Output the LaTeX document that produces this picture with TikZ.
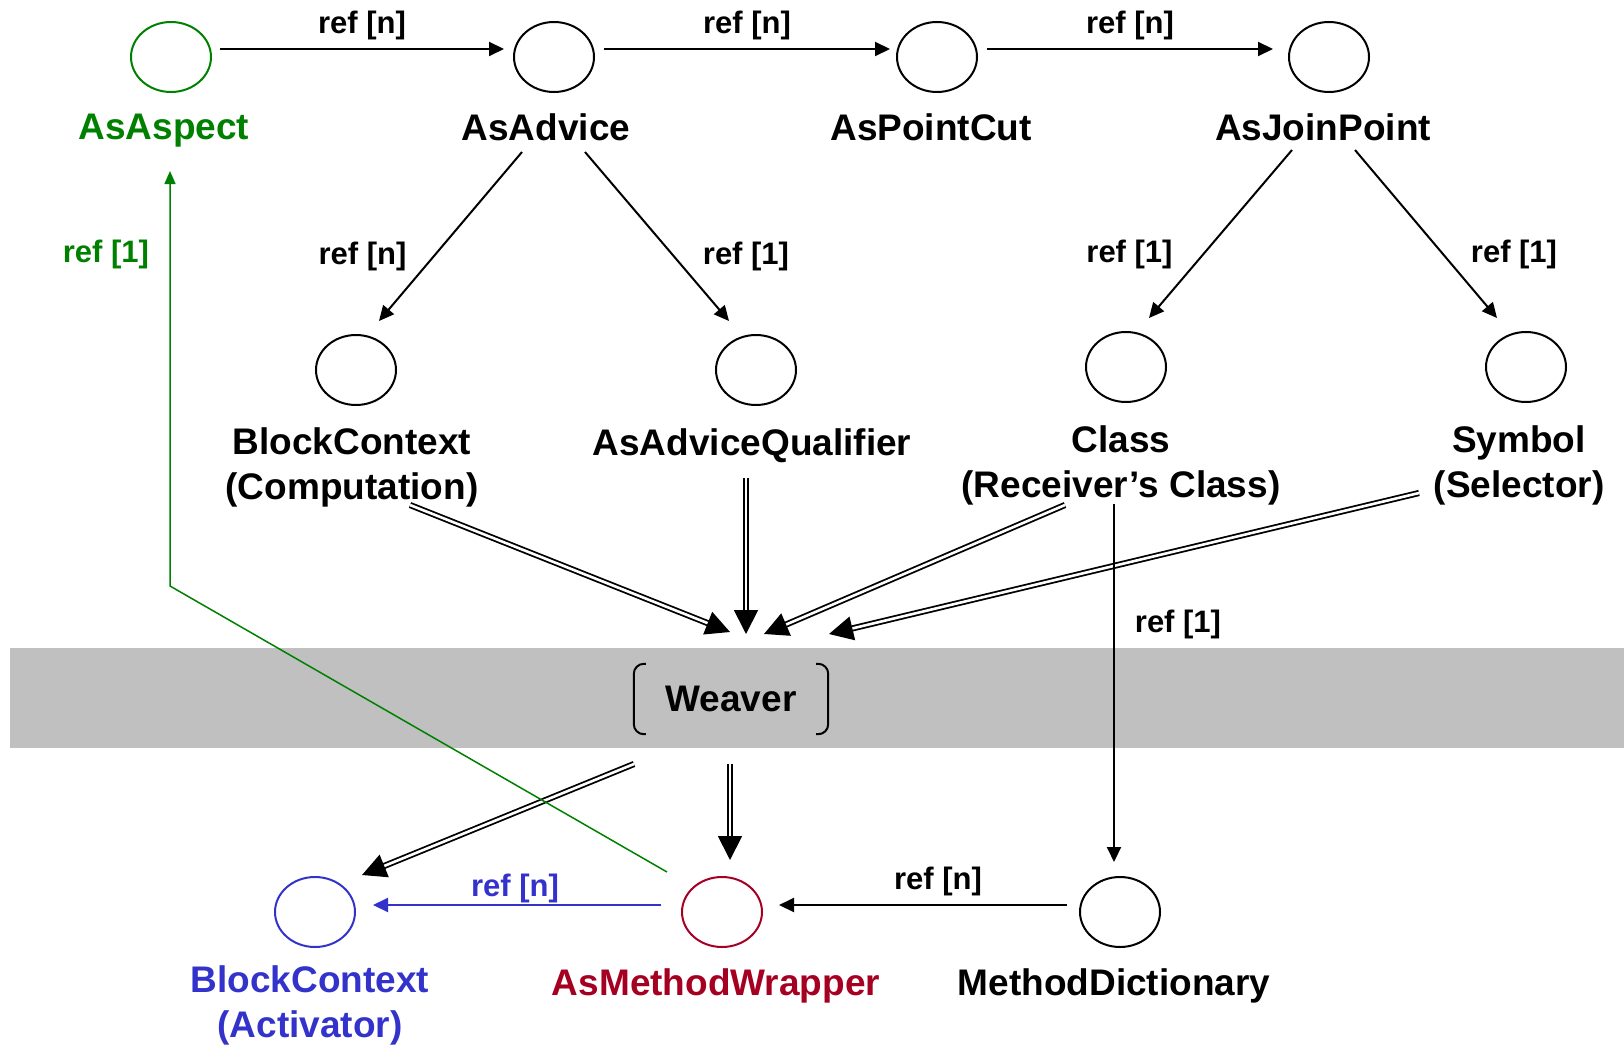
\documentclass[tikz,border=0pt]{standalone}
\usepackage{fontspec}
\setmainfont{Liberation Sans}
\usetikzlibrary{shapes.geometric,arrows.meta}
\definecolor{aspgreen}{RGB}{0,128,0}
\definecolor{actblue}{RGB}{51,51,204}
\definecolor{wrapred}{RGB}{165,0,33}
\definecolor{band}{RGB}{192,192,192}
\begin{document}
\begin{tikzpicture}[x=1pt,y=-1pt,
    obj/.style={ellipse,draw,line width=2pt,minimum width=80pt,minimum height=70pt,inner sep=0pt},
    lbl/.style={font=\bfseries\fontsize{37}{45}\selectfont,align=center,inner sep=0pt},
    reftxt/.style={font=\bfseries\fontsize{31}{36}\selectfont,inner sep=0pt},
    refarrow/.style={line width=2pt,-{Triangle[length=15pt,width=14pt]}},
    weave/.style={line width=1.8pt,double,double distance=2.6pt,-{Triangle[length=24pt,width=24pt]}}]
    \useasboundingbox (0,0) rectangle (1624,1046);
    \fill[band] (10,648) rectangle (1624,748);
    \node[obj,aspgreen] (aspE) at (171,57) {};
    \node[lbl,aspgreen] (aspL) at (164,131) {AsAspect};
    \node[obj] (advE) at (554,57) {};
    \node[lbl] (advL) at (546,127) {AsAdvice};
    \node[obj] (pcE) at (937,57) {};
    \node[lbl] (pcL) at (931,127) {AsPointCut};
    \node[obj] (jpE) at (1329,57) {};
    \node[lbl] (jpL) at (1323,127) {AsJoinPoint};
    \node[obj] (bcE) at (356,370) {};
    \node[lbl] (bcL) at (352,467) {BlockContext\\(Computation)};
    \node[obj] (qualE) at (756,370) {};
    \node[lbl] (qualL) at (752,446) {AsAdviceQualifier};
    \node[obj] (clsE) at (1126,367) {};
    \node[lbl] (clsL) at (1121,465) {Class\\(Receiver’s Class)};
    \node[obj] (symE) at (1526,367) {};
    \node[lbl] (symL) at (1519,465) {Symbol\\(Selector)};
    \node[font=\bfseries\fontsize{37}{42}\selectfont,minimum width=194pt,minimum height=70pt] (wv) at (731,699) {Weaver};
    \draw[line width=2pt,rounded corners=10pt] ([xshift=12pt]wv.north west)--(wv.north west)--(wv.south west)--([xshift=12pt]wv.south west);
    \draw[line width=2pt,rounded corners=10pt] ([xshift=-12pt]wv.north east)--(wv.north east)--(wv.south east)--([xshift=-12pt]wv.south east);
    \node[obj,actblue] (actE) at (315,912) {};
    \node[lbl,actblue] (actL) at (310,1005) {BlockContext\\(Activator)};
    \node[obj,wrapred] (wrapE) at (722,912) {};
    \node[lbl,wrapred] (wrapL) at (716,986) {AsMethodWrapper};
    \node[obj] (mdE) at (1120,912) {};
    \node[lbl] (mdL) at (1114,986) {MethodDictionary};
    \draw[refarrow] ([shift={(8,-8)}]aspE.east) -- node[reftxt,midway,yshift=24pt]{ref [n]} ([shift={(-9,-8)}]advE.west);
    \draw[refarrow] ([shift={(9,-8)}]advE.east) -- node[reftxt,midway,yshift=24pt]{ref [n]} ([shift={(-6,-8)}]pcE.west);
    \draw[refarrow] ([shift={(9,-8)}]pcE.east) -- node[reftxt,midway,yshift=24pt]{ref [n]} ([shift={(-15,-8)}]jpE.west);
    \draw[refarrow] ([shift={(-24,25)}]advL.center) -- node[reftxt,midway,xshift=-88pt,yshift=-20pt]{ref [n]} ([shift={(23,-49)}]bcE.center);
    \draw[refarrow] ([shift={(39,25)}]advL.center) -- node[reftxt,midway,xshift=89pt,yshift=-20pt]{ref [1]} ([shift={(-27,-49)}]qualE.center);
    \draw[refarrow] ([shift={(-31,23)}]jpL.center) -- node[reftxt,midway,xshift=-91pt,yshift=-20pt]{ref [1]} ([shift={(23,-49)}]clsE.center);
    \draw[refarrow] ([shift={(32,23)}]jpL.center) -- node[reftxt,midway,xshift=88pt,yshift=-20pt]{ref [1]} ([shift={(-29,-49)}]symE.center);
    \draw[weave] ([shift={(58,38)}]bcL.center) -- ([shift={(-1,-67)}]wv.center);
    \draw[weave] ([shift={(-6,32)}]qualL.center) -- ([shift={(15,-65)}]wv.center);
    \draw[weave] ([shift={(-56,40)}]clsL.center) -- ([shift={(33,-65)}]wv.center);
    \draw[weave] ([shift={(-100,28)}]symL.center) -- ([shift={(98,-65)}]wv.center);
    \draw[weave] ([shift={(-97,65)}]wv.center) -- ([shift={(47,-37)}]actE.center);
    \draw[weave] ([shift={(-1,65)}]wv.center) -- ([shift={(8,-52)}]wrapE.center);
    \draw[refarrow] ([shift={(-7,39)}]clsL.center) -- node[reftxt,midway,xshift=64pt,yshift=59pt]{ref [1]} ([shift={(-6,-50)}]mdE.center);
    \draw[refarrow] ([shift={(-53,-7)}]mdE.center) -- node[reftxt,midway,xshift=15pt,yshift=24pt]{ref [n]} ([shift={(57,-7)}]wrapE.center);
    \draw[refarrow,actblue] ([shift={(-61,-7)}]wrapE.center) -- node[reftxt,midway,xshift=-2pt,yshift=17pt]{ref [n]} ([shift={(58,-7)}]actE.center);
    \coordinate (bend) at (170,586);
    \draw[aspgreen,line width=1.5pt,-{Triangle[length=13pt,width=11pt]}] ([shift={(-55,-40)}]wrapE.center) -- (bend)
      -- node[reftxt,pos=0.8,xshift=-64pt]{ref [1]} ([shift={(6,40)}]aspL.center);
\end{tikzpicture}
\end{document}
